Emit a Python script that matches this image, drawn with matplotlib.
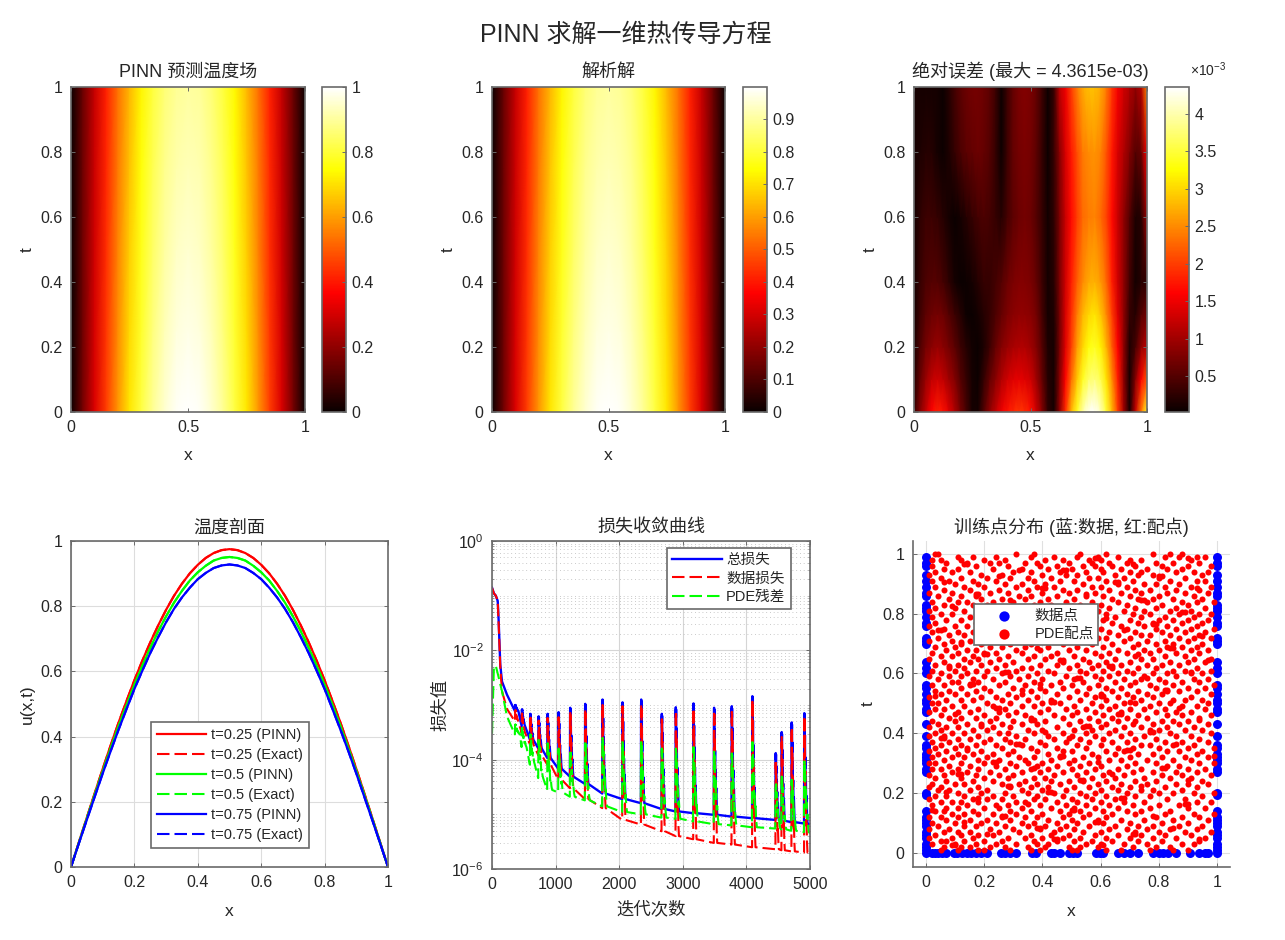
import numpy as np
import matplotlib
matplotlib.use("Agg")
import matplotlib.pyplot as plt
from matplotlib.ticker import LogLocator, NullFormatter

plt.rcParams["font.family"] = ["Liberation Sans", "Noto Sans CJK SC", "DejaVu Sans"]
plt.rcParams["mathtext.default"] = "regular"
plt.rcParams["axes.unicode_minus"] = False

W, H = 1285, 940
GRAY = "#6a6a6a"
TXT = "#262626"

# 温度场
x_field = [0, .05, .1, .15, .2, .25, .3, .35, .4, .45, .5, .55, .6, .65, .7, .75, .8, .85, .9, .95, 1]
t_field = [0, .25, .5, .75, 1]
exact_t0 = [0, .156, .309, .454, .588, .707, .809, .891, .951, .988, .9995, .988, .951, .891, .809, .707, .588, .454, .309, .156, 0]
exact_t25 = [0, .152, .301, .443, .573, .689, .789, .869, .927, .963, .975, .963, .927, .869, .789, .689, .573, .443, .301, .152, 0]
exact_t50 = [0, .149, .294, .432, .559, .672, .769, .847, .904, .940, .951, .940, .904, .847, .769, .672, .559, .432, .294, .149, 0]
exact_t75 = [0, .145, .287, .421, .546, .656, .751, .827, .883, .917, .928, .917, .883, .827, .751, .656, .546, .421, .287, .145, 0]
exact_t100 = [0, .141, .280, .411, .532, .640, .732, .806, .861, .894, .905, .894, .861, .806, .732, .640, .532, .411, .280, .141, 0]
pinn_t0 = [0, .157, .310, .455, .589, .708, .810, .892, .952, .989, 1.0, .989, .950, .893, .812, .711, .591, .456, .310, .157, 0]
pinn_t25 = [0, .152, .301, .443, .574, .690, .789, .869, .927, .963, .976, .964, .928, .871, .792, .692, .575, .444, .302, .152, 0]
pinn_t50 = [0, .149, .294, .432, .559, .672, .769, .847, .904, .940, .952, .941, .905, .849, .771, .674, .560, .433, .294, .149, 0]
pinn_t75 = [0, .145, .287, .421, .546, .656, .751, .827, .883, .917, .929, .918, .884, .829, .753, .658, .548, .422, .287, .145, 0]
pinn_t100 = [0, .141, .280, .411, .533, .640, .732, .806, .861, .894, .905, .895, .862, .808, .735, .643, .534, .412, .281, .142, 0]

# 温度剖面
x_prof = [0, .025, .05, .075, .1, .125, .15, .175, .2, .225, .25, .275, .3, .325, .35, .375, .4, .425, .45, .475, .5,
          .525, .55, .575, .6, .625, .65, .675, .7, .725, .75, .775, .8, .825, .85, .875, .9, .925, .95, .975, 1]
prof_t25 = [0, .0765, .152, .227, .301, .373, .443, .509, .573, .633, .689, .741, .789, .832, .869, .901, .927, .948, .963, .972, .975,
            .972, .963, .948, .927, .901, .869, .832, .789, .741, .689, .633, .573, .509, .443, .373, .301, .227, .152, .0765, 0]
prof_t50 = [0, .0747, .149, .222, .294, .364, .432, .496, .559, .617, .672, .723, .769, .811, .847, .879, .904, .924, .940, .948, .951,
            .948, .940, .924, .904, .879, .847, .811, .769, .723, .672, .617, .559, .496, .432, .364, .294, .222, .149, .0747, 0]
prof_t75 = [0, .0729, .145, .216, .287, .355, .421, .484, .546, .602, .656, .705, .751, .792, .827, .857, .883, .902, .917, .925, .928,
            .925, .917, .902, .883, .857, .827, .792, .751, .705, .656, .602, .546, .484, .421, .355, .287, .216, .145, .0729, 0]

# 绝对误差 (x1e-3)
t_err = [0, .1, .2, .3, .4, .6, .8, 1]
err_t0 = [.3, .8, 1.2, 1.6, 1.8, 1.7, 1.4, 1.1, .7, .4, .1, .1, .5, .9, 1.2, 1.5, 1.7, 1.85, 1.95, 1.9, 1.7,
          1.3, .8, .25, .1, .9, 1.9, 2.8, 3.4, 4.0, 4.3, 4.36, 4.1, 3.5, 2.8, 2.0, 1.0, .1, 1.2, 2.4, 3.4]
err_t10 = [.2, .6, .95, 1.2, 1.3, 1.2, 1.0, .8, .5, .3, .1, .05, .3, .6, .85, 1.1, 1.3, 1.4, 1.45, 1.4, 1.3,
           1.0, .6, .2, .1, .8, 1.6, 2.3, 2.9, 3.4, 3.7, 3.8, 3.6, 3.1, 2.5, 1.8, .9, .1, .8, 1.6, 2.2]
err_t20 = [.15, .45, .7, .85, .95, .85, .7, .55, .35, .2, .08, .02, .15, .35, .6, .8, .95, 1.05, 1.1, 1.1, 1.0,
           .8, .5, .15, .1, .7, 1.4, 2.0, 2.6, 3.0, 3.3, 3.4, 3.2, 2.8, 2.2, 1.6, .9, .15, .4, .9, 1.2]
err_t30 = [.1, .35, .55, .65, .7, .65, .5, .35, .2, .05, .02, .1, .2, .3, .45, .6, .75, .85, .9, .9, .85,
           .7, .4, .1, .15, .7, 1.35, 1.9, 2.4, 2.8, 3.0, 3.1, 2.9, 2.5, 2.0, 1.4, .9, .3, .2, .5, .7]
err_t40 = [.1, .3, .45, .5, .5, .4, .25, .1, .02, .05, .1, .2, .3, .3, .4, .5, .65, .75, .8, .8, .75,
           .6, .35, .1, .2, .75, 1.3, 1.8, 2.2, 2.5, 2.7, 2.75, 2.6, 2.3, 1.8, 1.3, .9, .4, .1, .2, .3]
err_t60 = [.1, .25, .35, .35, .3, .2, .1, .03, .1, .2, .3, .4, .45, .4, .3, .2, .4, .55, .65, .7, .65,
           .5, .3, .08, .25, .75, 1.25, 1.65, 2.0, 2.3, 2.4, 2.45, 2.3, 2.05, 1.65, 1.25, .9, .5, .15, .2, 1.0]
err_t80 = [.1, .15, .2, .2, .1, .05, .15, .3, .45, .55, .6, .65, .6, .5, .3, .05, .35, .6, .7, .75, .7,
           .55, .3, .05, .3, .85, 1.35, 1.75, 2.1, 2.4, 2.5, 2.55, 2.45, 2.15, 1.75, 1.35, 1.1, .8, .5, .6, 1.6]
err_t100 = [.1, .1, .1, .1, .1, .05, .2, .4, .55, .65, .7, .7, .65, .55, .35, .05, .35, .6, .75, .8, .75,
            .6, .35, .05, .3, 1.2, 1.5, 2.0, 2.4, 2.7, 2.85, 2.85, 2.7, 2.4, 1.95, 1.55, 1.3, 1.1, .9, 1.1, 2.5]

# 损失曲线
start_iter = [0, 30, 60, 90, 105, 130, 157, 235]
total_start = [.14, .11, .10, .08, .034, .0055, .0027, .00155]
data_start = [.14, .11, .10, .08, .03, .005, .0018, .00085]
pde_start = [.0003, .005, .0052, .0038, .0032, .0024, .0018, .00062]
spike_iter = [366, 471, 602, 733, 874, 1047, 1230, 1466, 1738, 2052, 2346, 2670, 2890, 3168, 3492, 3770, 4094, 4461, 4555, 4712, 4911]
total_base = [7.7e-4, 4.1e-4, 2.3e-4, 1.6e-4, 1.07e-4, 6.8e-5, 4.9e-5, 3.6e-5, 2.4e-5, 1.9e-5, 1.6e-5, 1.25e-5, 1.13e-5, 1.05e-5, 9.8e-6, 9.1e-6, 8.5e-6, 7.9e-6, 7.6e-6, 7.2e-6, 6.8e-6]
total_peak = [1.0e-3, 8.3e-4, 6.9e-4, 6.2e-4, 6.9e-4, 7.4e-4, 8.9e-4, 1.05e-3, 1.26e-3, 1.12e-3, 1.26e-3, 6.9e-4, 9.1e-4, 1.07e-3, 8.9e-4, 9.5e-4, 1.45e-3, 1.32e-4, 3.2e-4, 4.8e-4, 7.1e-4]
data_base = [5e-4, 3.1e-4, 1.9e-4, 1.2e-4, 8.1e-5, 4.3e-5, 3e-5, 1.9e-5, 1.3e-5, 7.9e-6, 6.5e-6, 4.9e-6, 4e-6, 3.5e-6, 3e-6, 2.8e-6, 2.5e-6, 2.3e-6, 2.2e-6, 2.1e-6, 2e-6]
data_peak = [8e-4, 7e-4, 6e-4, 5.2e-4, 5.8e-4, 6e-4, 7.5e-4, 8.5e-4, 1.0e-3, 9.5e-4, 1.0e-3, 5.5e-4, 7.5e-4, 8.5e-4, 7.5e-4, 7.5e-4, 1.15e-3, 1.0e-4, 2.6e-4, 3.8e-4, 6e-4]
pde_base = [2.9e-4, 1.7e-4, 8.1e-5, 4.6e-5, 2.8e-5, 2.5e-5, 2.1e-5, 1.8e-5, 1.4e-5, 1.1e-5, 1e-5, 8.7e-6, 8.3e-6, 7.4e-6, 6.6e-6, 6.3e-6, 5.8e-6, 5.5e-6, 5.3e-6, 5e-6, 4.7e-6]
pde_peak = [4.4e-4, 3.8e-4, 2.9e-4, 2.3e-4, 2e-4, 1.6e-4, 1.4e-4, 2e-4, 2.5e-4, 2.1e-4, 2.1e-4, 1.6e-4, 1.6e-4, 1.7e-4, 1.4e-4, 1.3e-4, 2.1e-4, 3.7e-5, 4.9e-5, 4.3e-5, 9.3e-5]
end_iter = 5000
end_vals = {"total": 6.6e-6, "data": 2.1e-6, "pde": 4.5e-6}
# 每个尖峰的形状: (迭代偏移, 对数高度比例)
spike_shape = [(-12, 0), (-6, .9), (0, 1), (6, .9), (12, .98), (18, .7), (25, .8), (33, .5), (42, .6), (52, .35), (62, .42), (75, .2), (90, .25), (110, .08), (130, 0)]

# 训练点
data_t = [.99, .97, .96, .93, .91, .89, .87, .86, .83, .82, .81, .79, .77, .76, .72, .71, .70, .64, .62, .60, .56, .55, .53, .51, .50, .48, .47,
          .43, .39, .36, .35, .33, .32, .31, .30, .28, .27, .20, .195, .14, .12, .11, .10, .09, .07, .06, .05, .03, .02, .01, 0]
data_bottom_x = [.02, .03, .04, .055, .067, .095, .107, .125, .14, .153, .17, .19, .21, .257, .27, .29, .31, .365, .378, .43, .44, .46, .49, .505, .52,
                 .585, .597, .61, .66, .68, .70, .73, .78, .80, .815, .833, .86, .908, .94, .96, .97]
pde_rows = {
    100: [3, 4, 31, 37, 53, 62, 78, 84, 88],
    99: [11, 16, 24, 36, 44, 52, 59, 66, 82, 87, 93, 96],
    98: [2, 5, 12, 20, 27, 41, 47, 56, 60, 70, 74, 91],
    97: [7, 14, 22, 25, 34, 38, 49, 57, 63, 69, 79, 85, 94],
    96: [2, 17, 28, 39, 45, 54, 58, 64, 72, 81, 90, 98],
    95: [6, 11, 23, 33, 42, 50, 60, 67, 76, 83, 88],
    94: [3, 9, 15, 30, 36, 46, 55, 61, 70, 74, 86, 92, 97],
    93: [1, 19, 26, 40, 48, 52, 65, 73, 78, 95],
    92: [5, 12, 21, 29, 35, 43, 56, 59, 68, 80, 89],
    91: [2, 8, 16, 24, 37, 46, 51, 62, 71, 84, 93, 96],
    90: [10, 18, 27, 33, 41, 54, 66, 75, 79, 87],
    89: [3, 13, 20, 31, 38, 44, 57, 60, 69, 82, 91, 98],
    88: [6, 15, 25, 35, 47, 52, 63, 72, 77, 86, 94],
    87: [1, 9, 22, 28, 40, 49, 58, 67, 74, 83, 89, 97],
    86: [4, 12, 17, 32, 36, 45, 55, 61, 70, 80, 92],
    85: [8, 19, 26, 34, 42, 51, 64, 73, 78, 85, 95],
    84: [2, 11, 14, 23, 30, 39, 48, 57, 66, 76, 88, 93, 99],
    83: [6, 16, 21, 37, 43, 53, 60, 69, 81, 90],
    82: [3, 10, 18, 27, 33, 47, 56, 63, 72, 79, 86, 96],
    81: [1, 13, 24, 29, 41, 50, 59, 68, 75, 84, 91],
    80: [5, 9, 20, 35, 44, 54, 62, 71, 77, 87, 94, 98],
    79: [2, 15, 22, 31, 38, 46, 58, 65, 74, 82, 92],
    78: [7, 12, 26, 36, 42, 52, 61, 70, 80, 85, 90, 97],
    77: [3, 17, 19, 28, 34, 49, 55, 64, 73, 78, 88, 95],
    76: [1, 10, 14, 24, 40, 45, 57, 67, 75, 83, 93],
    75: [6, 21, 30, 37, 48, 53, 60, 69, 79, 86, 91, 99],
    74: [2, 11, 16, 25, 33, 43, 51, 63, 72, 81, 89, 96],
    73: [8, 13, 20, 35, 41, 56, 66, 74, 77, 84, 94],
    72: [4, 18, 27, 32, 46, 50, 59, 62, 70, 87, 92, 98],
    71: [1, 9, 15, 23, 38, 44, 54, 68, 76, 82, 90],
    70: [6, 12, 19, 29, 36, 47, 57, 64, 73, 79, 85, 95],
    69: [3, 10, 22, 26, 34, 42, 52, 61, 71, 83, 88, 93],
    68: [7, 14, 17, 31, 39, 49, 55, 66, 75, 80, 91, 97],
    67: [2, 11, 20, 24, 33, 45, 58, 63, 69, 77, 86, 94],
    66: [5, 9, 16, 28, 37, 43, 51, 60, 72, 82, 89],
    65: [1, 13, 18, 25, 35, 41, 54, 65, 74, 78, 92, 98],
    64: [6, 15, 22, 30, 47, 56, 62, 70, 84, 90, 96],
    63: [3, 11, 19, 27, 39, 45, 52, 59, 67, 76, 81, 87],
    62: [8, 13, 24, 33, 36, 49, 57, 64, 73, 79, 93],
    61: [2, 10, 17, 21, 31, 42, 53, 61, 69, 85, 89, 98],
    60: [5, 14, 26, 38, 44, 55, 66, 71, 78, 83, 91, 95],
    59: [1, 8, 12, 20, 29, 35, 48, 58, 63, 75, 86],
    58: [4, 16, 23, 32, 40, 51, 60, 68, 74, 80, 92, 97],
    57: [9, 11, 18, 27, 37, 46, 54, 65, 72, 82, 88, 94],
    56: [2, 6, 15, 25, 34, 43, 50, 59, 70, 77, 85, 99],
    55: [12, 20, 30, 39, 47, 56, 62, 67, 79, 90, 96],
    54: [3, 8, 17, 22, 36, 41, 52, 64, 73, 83, 87, 93],
    53: [5, 10, 14, 28, 33, 45, 55, 60, 69, 76, 81, 98],
    52: [1, 19, 24, 31, 38, 49, 58, 66, 71, 78, 91],
    51: [7, 12, 16, 26, 35, 43, 53, 62, 74, 85, 89, 95],
    50: [2, 4, 21, 29, 40, 46, 57, 68, 72, 80, 84, 97],
    49: [9, 13, 23, 33, 37, 51, 60, 65, 77, 88, 93],
    48: [3, 6, 18, 27, 42, 48, 55, 63, 70, 75, 82, 96],
    47: [1, 11, 15, 25, 31, 39, 52, 58, 67, 79, 86, 91],
    46: [5, 20, 28, 34, 44, 50, 61, 73, 83, 88, 98],
    45: [8, 12, 17, 24, 36, 47, 56, 64, 69, 76, 94],
    44: [2, 10, 22, 30, 41, 53, 59, 66, 72, 81, 85, 90],
    43: [4, 14, 19, 26, 33, 38, 49, 62, 71, 78, 87, 97],
    42: [1, 7, 11, 23, 29, 45, 54, 60, 68, 74, 83, 92],
    41: [5, 16, 21, 35, 40, 51, 57, 65, 77, 80, 89, 95],
    40: [3, 9, 13, 25, 28, 37, 47, 55, 63, 70, 84, 98],
    39: [1, 6, 18, 31, 42, 50, 58, 67, 75, 86, 91],
    38: [11, 15, 22, 27, 34, 44, 53, 61, 72, 79, 94],
    37: [2, 8, 20, 29, 39, 48, 56, 64, 69, 82, 88, 97],
    36: [5, 12, 17, 24, 33, 41, 52, 60, 74, 77, 85, 92],
    35: [3, 10, 14, 26, 36, 45, 55, 66, 71, 80, 90, 99],
    34: [1, 7, 19, 30, 38, 47, 50, 62, 68, 83, 87, 95],
    33: [4, 11, 16, 23, 28, 42, 57, 65, 73, 78, 93],
    32: [2, 9, 13, 21, 32, 37, 46, 54, 59, 70, 81, 89, 97],
    31: [6, 18, 25, 34, 43, 51, 63, 67, 76, 85, 91],
    30: [1, 3, 12, 20, 29, 35, 40, 49, 56, 72, 79, 94, 99],
    29: [8, 15, 24, 31, 38, 45, 53, 60, 69, 83, 87],
    28: [2, 5, 11, 18, 27, 36, 42, 50, 58, 66, 74, 90, 96],
    27: [9, 14, 22, 33, 39, 47, 55, 63, 71, 78, 86, 93],
    26: [1, 6, 17, 25, 30, 44, 52, 61, 68, 81, 88, 98],
    25: [3, 12, 20, 28, 37, 41, 57, 65, 75, 84, 91],
    24: [7, 16, 23, 34, 43, 49, 54, 62, 72, 79, 95],
    23: [2, 10, 13, 26, 32, 38, 46, 59, 67, 76, 86, 90, 97],
    22: [1, 5, 18, 29, 36, 42, 51, 56, 64, 70, 82, 93],
    21: [4, 8, 15, 21, 33, 40, 48, 60, 66, 74, 78, 88],
    20: [11, 19, 27, 35, 44, 53, 58, 69, 80, 85, 92, 99],
    19: [3, 7, 13, 23, 30, 38, 47, 55, 62, 72, 77, 95],
    18: [1, 16, 21, 26, 37, 41, 50, 57, 65, 83, 89],
    17: [5, 9, 12, 18, 31, 34, 45, 52, 60, 68, 75, 93, 98],
    16: [2, 14, 24, 28, 39, 48, 55, 63, 71, 80, 87],
    15: [7, 11, 20, 25, 33, 43, 51, 58, 66, 77, 90, 96],
    14: [3, 6, 16, 29, 36, 46, 53, 61, 69, 74, 84],
    13: [9, 13, 18, 23, 31, 40, 49, 56, 64, 72, 82, 92, 99],
    12: [1, 5, 11, 26, 34, 38, 47, 54, 62, 79, 88, 94],
    11: [7, 15, 21, 29, 42, 50, 59, 67, 75, 85, 97],
    10: [2, 10, 19, 24, 33, 37, 45, 52, 61, 70, 81, 90],
    9: [4, 13, 17, 27, 35, 41, 48, 56, 65, 73, 78, 87, 95],
    8: [1, 8, 22, 30, 39, 46, 51, 63, 69, 76, 84, 93],
    7: [6, 11, 15, 25, 32, 44, 54, 60, 72, 80, 89, 98],
    6: [3, 12, 18, 23, 36, 43, 49, 58, 66, 74, 82, 91],
    5: [1, 9, 16, 28, 34, 40, 47, 53, 62, 70, 78, 86, 96],
    4: [5, 7, 13, 20, 26, 37, 45, 51, 57, 64, 73, 81, 94],
    3: [2, 10, 17, 24, 31, 38, 42, 55, 60, 68, 76, 88, 92],
    2: [6, 12, 15, 22, 27, 35, 41, 49, 53, 59, 71, 79, 84],
    1: [5, 11, 18, 20, 29, 36, 39, 50, 52, 62, 67, 77, 85, 90],
}
# 成团的配点, 键为 t*200
pde_extra_rows = {
    197: [58, 59, 90], 193: [13, 14, 71], 189: [32, 47, 48], 185: [80, 81, 25], 181: [6, 65, 66],
    177: [40, 41, 93], 173: [17, 18, 55], 169: [74, 75, 29], 165: [9, 49, 50], 161: [35, 88, 89],
    157: [22, 23, 62], 153: [44, 78, 79], 149: [4, 5, 68], 145: [30, 31, 95], 141: [56, 57, 12],
    137: [84, 85, 38], 133: [20, 21, 73], 129: [46, 47, 97], 125: [63, 64, 8], 121: [27, 28, 91],
    117: [52, 53, 76], 113: [15, 16, 39], 109: [82, 83, 33], 105: [60, 61, 3], 101: [43, 44, 70],
    97: [24, 25, 87], 93: [66, 67, 10], 89: [36, 37, 94], 85: [55, 56, 19], 81: [77, 78, 41],
    77: [5, 6, 49], 73: [31, 32, 86], 69: [69, 70, 14], 65: [46, 47, 99], 61: [23, 24, 59],
    57: [81, 82, 37], 53: [11, 12, 64], 49: [53, 54, 90], 45: [28, 29, 74], 41: [42, 43, 7],
    37: [67, 68, 18], 33: [89, 90, 35], 29: [50, 51, 2], 25: [26, 27, 78], 21: [58, 59, 13],
    17: [38, 39, 85], 13: [71, 72, 21], 9: [44, 45, 94], 5: [9, 10, 61],
}


def px_axes(left, top, right, bottom):
    return fig.add_axes([left / W, 1 - bottom / H, (right - left) / W, (bottom - top) / H])


def style_axes(ax, box=True):
    ax.tick_params(direction="in", length=3, width=0.7, labelcolor=TXT, labelsize=11.5, top=box, right=box, pad=6, color=GRAY)
    for name, sp in ax.spines.items():
        sp.set_color(GRAY)
        sp.set_linewidth(1.2)
    ax.spines["top"].set_visible(box)
    ax.spines["right"].set_visible(box)


def heat_panel(pos, cpos, xs, ts, z, vmin, vmax, title, ticks, ticklabels):
    ax = px_axes(*pos)
    mesh = ax.pcolormesh(xs, ts, np.array(z), cmap="hot", vmin=vmin, vmax=vmax, shading="gouraud")
    ax.set_xlim(0, 1)
    ax.set_ylim(0, 1)
    ax.set_xticks([0, 0.5, 1], ["0", "0.5", "1"])
    ax.set_yticks([0, .2, .4, .6, .8, 1], ["0", "0.2", "0.4", "0.6", "0.8", "1"])
    style_axes(ax)
    ax.set_xlabel("x", fontsize=12.5, color=TXT, labelpad=9)
    ax.set_ylabel("t", fontsize=12.5, color=TXT, labelpad=4)
    ax.set_title(title, fontsize=13, color=TXT, pad=7)
    cax = px_axes(*cpos)
    cb = fig.colorbar(mesh, cax=cax)
    cb.set_ticks(ticks, labels=ticklabels)
    cb.ax.tick_params(direction="in", length=3, width=0.7, labelsize=11.5, labelcolor=TXT, color=GRAY, pad=4)
    cb.outline.set_edgecolor(GRAY)
    cb.outline.set_linewidth(1.2)
    return ax


def loss_series(start, base, peak, end, width):
    its = list(start_iter)
    vals = list(start)
    for k, it in enumerate(spike_iter):
        gap = spike_iter[k + 1] - it if k + 1 < len(spike_iter) else 89
        scale = min(width, (gap - 16) / 130)
        for off, frac in spike_shape:
            its.append(it + off * scale)
            vals.append(base[k] ** (1 - frac) * peak[k] ** frac)
    its.append(end_iter)
    vals.append(end)
    return its, vals


def finish_legend(leg):
    leg.get_frame().set_linewidth(1.2)
    for t in leg.get_texts():
        t.set_color(TXT)


fig = plt.figure(figsize=(W / 100, H / 100), dpi=100, facecolor="white")
fig.text(626 / W, 1 - 35 / H, "PINN 求解一维热传导方程", fontsize=18, color=TXT, ha="center", va="center")

u_pinn = [pinn_t0, pinn_t25, pinn_t50, pinn_t75, pinn_t100]
u_exact = [exact_t0, exact_t25, exact_t50, exact_t75, exact_t100]
u_err = [err_t0, err_t10, err_t20, err_t30, err_t40, err_t60, err_t80, err_t100]

heat_panel((71, 87, 305, 412), (322, 87, 346, 412), x_field, t_field, u_pinn, 0, 1, "PINN 预测温度场",
           [0, .2, .4, .6, .8, 1], ["0", "0.2", "0.4", "0.6", "0.8", "1"])
heat_panel((492, 87, 725, 412), (743, 87, 767, 412), x_field, t_field, u_exact, 0, .9995, "解析解",
           [0, .1, .2, .3, .4, .5, .6, .7, .8, .9], ["0", "0.1", "0.2", "0.3", "0.4", "0.5", "0.6", "0.7", "0.8", "0.9"])
heat_panel((914, 87, 1147, 412), (1165, 87, 1189, 412), x_prof, t_err, u_err, .02, 4.36, "绝对误差 (最大 = 4.3615e-03)",
           [.5, 1, 1.5, 2, 2.5, 3, 3.5, 4], ["0.5", "1", "1.5", "2", "2.5", "3", "3.5", "4"])
fig.text(1190 / W, 1 - 70 / H, r"$\times 10^{-3}$", fontsize=10, color=TXT, ha="left", va="center")

# 温度剖面
dash = (0, (6, 2.4))
ax4 = px_axes(71, 541, 388, 867)
ax4.plot(x_prof, prof_t25, color="#ff0000", lw=1.6, label="t=0.25 (PINN)")
ax4.plot(x_prof, prof_t25, color="#ff0000", lw=1.5, ls=dash, label="t=0.25 (Exact)")
ax4.plot(x_prof, prof_t50, color="#00ff00", lw=1.6, label="t=0.5 (PINN)")
ax4.plot(x_prof, prof_t50, color="#00ff00", lw=1.5, ls=dash, label="t=0.5 (Exact)")
ax4.plot(x_prof, prof_t75, color="#0000ff", lw=1.6, label="t=0.75 (PINN)")
ax4.plot(x_prof, prof_t75, color="#0000ff", lw=1.5, ls=dash, label="t=0.75 (Exact)")
ax4.set_xlim(0, 1)
ax4.set_ylim(0, 1)
ax4.set_xticks([0, .2, .4, .6, .8, 1], ["0", "0.2", "0.4", "0.6", "0.8", "1"])
ax4.set_yticks([0, .2, .4, .6, .8, 1], ["0", "0.2", "0.4", "0.6", "0.8", "1"])
ax4.grid(True, color="#dddddd", lw=0.8)
ax4.set_axisbelow(True)
style_axes(ax4)
ax4.set_xlabel("x", fontsize=12.5, color=TXT, labelpad=10)
ax4.set_ylabel("u(x,t)", fontsize=12.5, color=TXT, labelpad=4)
ax4.set_title("温度剖面", fontsize=13, color=TXT, pad=6)
leg = ax4.legend(loc="upper left", bbox_to_anchor=(151 / W, 1 - 722 / H), bbox_transform=fig.transFigure, borderaxespad=0,
                 fontsize=10.5, handlelength=3.4, handletextpad=0.3, labelspacing=0.42, borderpad=0.4,
                 fancybox=False, framealpha=1, edgecolor=GRAY)
finish_legend(leg)

# 损失曲线
ax5 = px_axes(492, 541, 810, 869)
it, val = loss_series(total_start, total_base, total_peak, end_vals["total"], 0.38)
ax5.semilogy(it, val, color="#0000ff", lw=1.7, label="总损失")
it, val = loss_series(data_start, data_base, data_peak, end_vals["data"], 0.38)
ax5.semilogy(it, val, color="#ff0000", lw=1.5, ls=dash, label="数据损失")
it, val = loss_series(pde_start, pde_base, pde_peak, end_vals["pde"], 0.55)
ax5.semilogy(it, val, color="#00ff00", lw=1.5, ls=dash, label="PDE残差")
ax5.set_xlim(0, 5000)
ax5.set_ylim(1e-6, 1)
ax5.set_xticks([0, 1000, 2000, 3000, 4000, 5000], ["0", "1000", "2000", "3000", "4000", "5000"])
ax5.set_yticks([1e-6, 1e-4, 1e-2, 1], [r"$10^{-6}$", r"$10^{-4}$", r"$10^{-2}$", r"$10^{0}$"])
ax5.yaxis.set_minor_locator(LogLocator(base=10, subs=np.arange(1, 10), numticks=100))
ax5.yaxis.set_minor_formatter(NullFormatter())
ax5.grid(True, which="major", color="#d5d5d5", lw=0.8)
ax5.grid(True, which="minor", axis="y", color="#b8b8b8", lw=0.6, ls=(0, (1, 3.5)))
ax5.set_axisbelow(True)
style_axes(ax5)
ax5.tick_params(which="minor", direction="in", length=1.5, width=0.5, color=GRAY, left=True, right=True)
ax5.set_xlabel("迭代次数", fontsize=12.5, color=TXT, labelpad=6)
ax5.set_ylabel("损失值", fontsize=12.5, color=TXT, labelpad=2)
ax5.set_title("损失收敛曲线", fontsize=13, color=TXT, pad=6)
leg = ax5.legend(loc="upper left", bbox_to_anchor=(667 / W, 1 - 548 / H), bbox_transform=fig.transFigure, borderaxespad=0,
                 fontsize=10.5, handlelength=3.4, handletextpad=0.3, labelspacing=0.3, borderpad=0.35,
                 fancybox=False, framealpha=1, edgecolor=GRAY)
finish_legend(leg)

# 训练点分布
ax6 = px_axes(913, 541, 1230, 867)
ax6.scatter([0] * len(data_t), data_t, s=42, color="#0000ff", linewidths=0, label="数据点", zorder=3)
ax6.scatter([1] * len(data_t), data_t, s=42, color="#0000ff", linewidths=0, zorder=3)
ax6.scatter(data_bottom_x, [0] * len(data_bottom_x), s=42, color="#0000ff", linewidths=0, zorder=3)
pde_x = []
pde_t = []
for row, xs in pde_rows.items():
    for v in xs:
        pde_x.append(v / 100)
        pde_t.append(row / 100)
for row, xs in pde_extra_rows.items():
    for v in xs:
        pde_x.append(v / 100)
        pde_t.append(row / 200)
ax6.scatter(pde_x, pde_t, s=19, color="#ff0000", linewidths=0, label="PDE配点", zorder=4)
ax6.set_xlim(-0.045, 1.045)
ax6.set_ylim(-0.047, 1.043)
ax6.set_xticks([0, .2, .4, .6, .8, 1], ["0", "0.2", "0.4", "0.6", "0.8", "1"])
ax6.set_yticks([0, .2, .4, .6, .8, 1], ["0", "0.2", "0.4", "0.6", "0.8", "1"])
ax6.grid(True, color="#e0e0e0", lw=0.8)
ax6.set_axisbelow(True)
style_axes(ax6, box=False)
ax6.set_xlabel("x", fontsize=12.5, color=TXT, labelpad=10)
ax6.set_ylabel("t", fontsize=12.5, color=TXT, labelpad=5)
ax6.set_title("训练点分布 (蓝:数据, 红:配点)", fontsize=13, color=TXT, pad=6)
leg = ax6.legend(loc="upper left", bbox_to_anchor=(974 / W, 1 - 604 / H), bbox_transform=fig.transFigure, borderaxespad=0,
                 fontsize=10.5, handlelength=3.55, handletextpad=0.3, labelspacing=0.3, borderpad=0.3,
                 fancybox=False, framealpha=1, edgecolor=GRAY)
finish_legend(leg)
leg.set_zorder(10)
for h in leg.legend_handles:
    h.set_sizes([55])

fig.savefig("out.png", dpi=100)
